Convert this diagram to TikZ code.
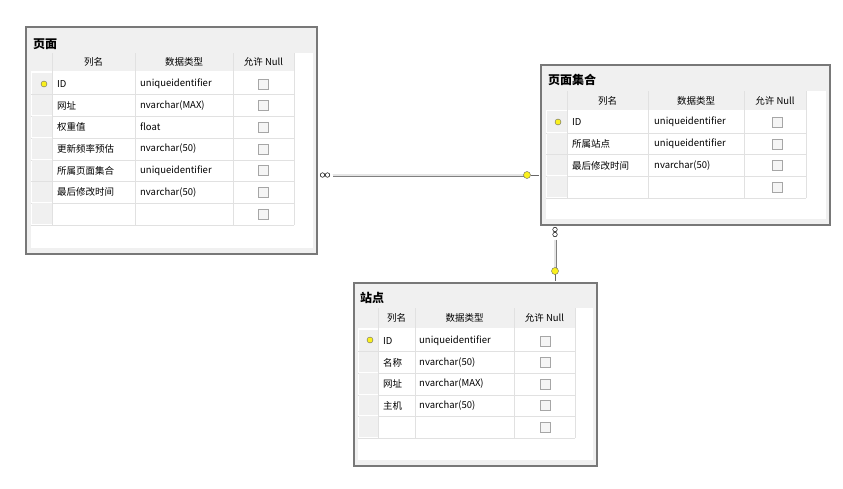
\documentclass[tikz,border=0pt]{standalone}
\usepackage{fontspec}
\setmainfont{Noto Sans CJK SC}
\usetikzlibrary{calc}
\definecolor{boxgray}{RGB}{240,240,240}
\definecolor{edgegray}{RGB}{120,120,120}
\definecolor{gridgray}{RGB}{225,225,225}
\definecolor{keyyellow}{RGB}{250,240,30}
\tikzset{
  tablebox/.style={draw=edgegray, line width=1.5pt, fill=boxgray, anchor=north west, inner sep=0pt},
  tabletitle/.style={anchor=west, inner sep=0pt, font=\fontsize{12}{13}\selectfont\bfseries},
  celltext/.style={anchor=west, inner sep=0pt, font=\fontsize{9.5}{11}\selectfont},
  headtext/.style={inner sep=0pt, font=\fontsize{9.5}{11}\selectfont},
  checkbox/.style={draw=gray!70, fill=gray!8, minimum size=10pt, inner sep=0pt},
  gridline/.style={draw=gridgray, line width=0.6pt},
  relation/.style={draw=gray, double=gray!20, double distance=1.4pt, line width=0.8pt},
  pkkey/.style={circle, draw=black!60, fill=keyyellow, minimum size=7pt, inner sep=0pt},
  manyend/.style={circle, draw=black, fill=white, minimum size=4.5pt, inner sep=0pt, line width=0.5pt},
}
\begin{document}
\begin{tikzpicture}[x=1pt,y=-1pt]
  \useasboundingbox[fill=white] (0,0) rectangle (843,488);

  % table: 页面
  \node[tablebox, minimum width=291pt, minimum height=227pt] (page) at (25,26) {};
  \node[tabletitle] (pagetitle) at (33,44) {页面};
  \fill[white] (31,53) rectangle (313,248);
  \fill[gray!12] (31,53) rectangle (294,71);
  \foreach \cx/\h in {93.5/列名,184/数据类型,263.5/允许 Null}
    \node[headtext] at (\cx,62) {\h};
  \foreach \n/\t [count=\i, evaluate=\i as \y using 73+(\i-1)*21.7] in
      {ID/uniqueidentifier,网址/{nvarchar(MAX)},权重值/float,更新频率预估/{nvarchar(50)},
       所属页面集合/uniqueidentifier,最后修改时间/{nvarchar(50)},{}/{}} {
    \fill[boxgray] (32,\y) rectangle (52,\y+20.7);
    \draw[gridline] (31,\y+21.7) -- (294,\y+21.7);
    \node[celltext] at (57,\y+10.8) {\n};
    \node[celltext] at (140,\y+10.8) {\t};
    \node[checkbox] at (263.5,\y+10.8) {};
  }
  \foreach \vx in {52,135,233,294}
    \draw[gridline] (\vx,53) -- (\vx,225);
  \node[pkkey, minimum size=6pt] (pagepk) at (44,84) {};

  % table: 页面集合
  \node[tablebox, minimum width=289pt, minimum height=160pt] (set) at (540,64) {};
  \node[tabletitle] (settitle) at (548,80) {页面集合};
  \fill[white] (546,91) rectangle (826,219);
  \fill[gray!12] (546,91) rectangle (806,110);
  \foreach \cx/\h in {607.5/列名,696/数据类型,775/允许 Null}
    \node[headtext] at (\cx,100.5) {\h};
  \foreach \n/\t [count=\i, evaluate=\i as \y using 111+(\i-1)*21.8] in
      {ID/uniqueidentifier,所属站点/uniqueidentifier,最后修改时间/{nvarchar(50)},{}/{}} {
    \fill[boxgray] (547,\y) rectangle (567,\y+20.8);
    \draw[gridline] (546,\y+21.8) -- (806,\y+21.8);
    \node[celltext] at (572,\y+10.9) {\n};
    \node[celltext] at (654,\y+10.9) {\t};
    \node[checkbox] at (777,\y+10.9) {};
  }
  \foreach \vx in {567,648,744,806}
    \draw[gridline] (\vx,91) -- (\vx,198);
  \node[pkkey, minimum size=6pt] (setpk) at (558,122) {};

  % table: 站点
  \node[tablebox, minimum width=243pt, minimum height=183pt] (site) at (353,282) {};
  \node[tabletitle] (sitetitle) at (360,298) {站点};
  \fill[white] (358,308) rectangle (593,460);
  \fill[gray!12] (358,308) rectangle (575,328);
  \foreach \cx/\h in {396.5/列名,464.5/数据类型,544.5/允许 Null}
    \node[headtext] at (\cx,318) {\h};
  \foreach \n/\t [count=\i, evaluate=\i as \y using 330+(\i-1)*21.6] in
      {ID/uniqueidentifier,名称/{nvarchar(50)},网址/{nvarchar(MAX)},主机/{nvarchar(50)},{}/{}} {
    \fill[boxgray] (359,\y) rectangle (378,\y+20.6);
    \draw[gridline] (358,\y+21.6) -- (575,\y+21.6);
    \node[celltext] at (383,\y+10.8) {\n};
    \node[celltext] at (419,\y+10.8) {\t};
    \node[checkbox] at (545,\y+10.8) {};
  }
  \foreach \vx in {378,415,514,575}
    \draw[gridline] (\vx,308) -- (\vx,438);
  \node[pkkey, minimum size=6pt] (sitepk) at (370,340) {};

  % relations
  \coordinate (pageend) at ($(page.north east)+(2,149)$);
  \coordinate (setend) at ($(set.north west)+(-1,111)$);
  \coordinate (settop) at ($(set.south west)+(15,1)$);
  \coordinate (sitebot) at ($(site.north west)+(202,-1)$);
  \draw[relation] ($(pageend)+(13,0)$) -- ($(setend)+(-12,0)$);
  \draw[relation] ($(settop)+(0,13)$) -- ($(sitebot)+(0,-10)$);
  \node[manyend] (m1) at ($(pageend)+(3,0)$) {};
  \node[manyend] (m2) at ($(pageend)+(8,0)$) {};
  \node[manyend] (m3) at ($(settop)+(0,3)$) {};
  \node[manyend] (m4) at ($(settop)+(0,8)$) {};
  \draw[black!60, line width=1pt] ($(setend)+(-8,0)$) -- (setend);
  \node[pkkey] (k1) at ($(setend)+(-12,0)$) {};
  \draw[black!60, line width=1pt] ($(sitebot)+(0,-7)$) -- (sitebot);
  \node[pkkey] (k2) at ($(sitebot)+(0,-10)$) {};
\end{tikzpicture}
\end{document}
